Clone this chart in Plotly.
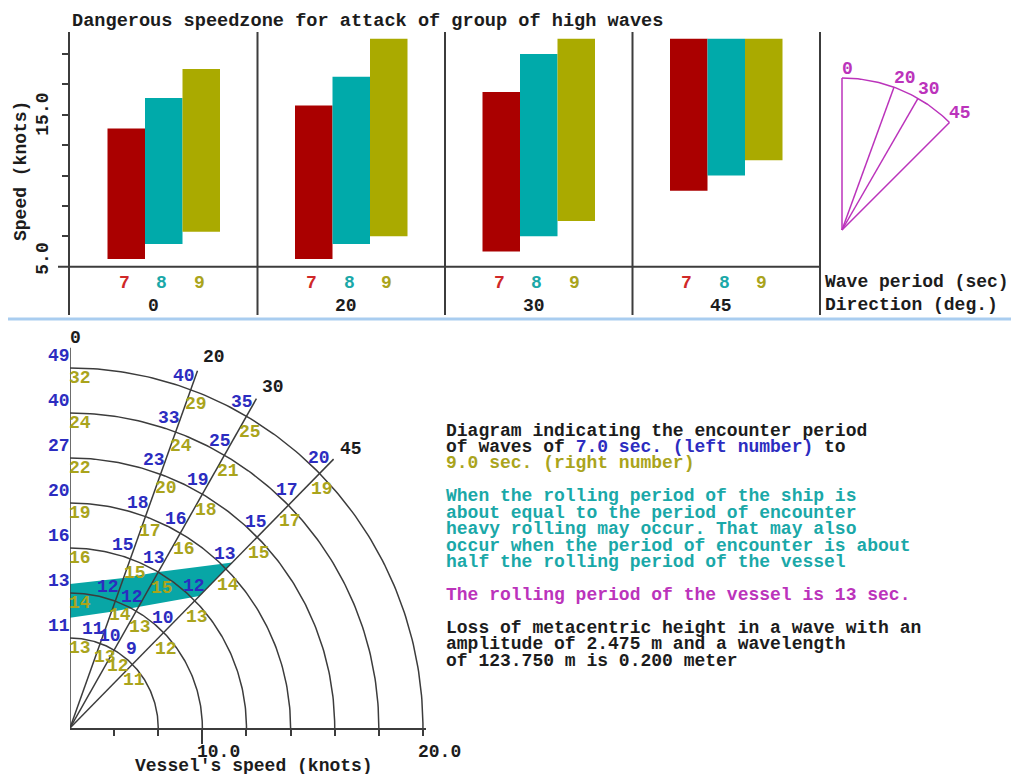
import numpy as np
import plotly.graph_objects as go

W, H = 1011, 774

# ---------------- dangerous speed zones (knots) ----------------
directions = [0, 20, 30, 45]          # wave direction (deg)
wave_periods = [7, 8, 9]              # wave period (sec)
zone_low_7s = [5.5, 5.5, 6.0, 10.0]
zone_high_7s = [14.1, 15.6, 16.5, 20.0]
zone_low_8s = [6.5, 6.5, 7.0, 11.0]
zone_high_8s = [16.1, 17.5, 19.0, 20.0]
zone_low_9s = [7.3, 7.0, 8.0, 12.0]
zone_high_9s = [18.0, 20.0, 20.0, 20.0]

# ---------------- encounter period diagram ----------------
circle_speeds = [8, 10, 12, 14, 16, 18, 20]   # vessel speed circles (knots)
hub_speed = 4.0                                # speed at the pole of the diagram
ray_end_speed = 20.9
# encounter period (sec) on each speed circle, 7.0 s waves
enc_7s_dir0 = [11, 13, 16, 20, 27, 40, 49]
enc_7s_dir20 = [11, 12, 15, 18, 23, 33, 40]
enc_7s_dir30 = [10, 12, 13, 16, 19, 25, 35]
enc_7s_dir45 = [9, 10, 12, 13, 15, 17, 20]
# encounter period (sec) on each speed circle, 9.0 s waves
enc_9s_dir0 = [13, 14, 16, 19, 22, 24, 32]
enc_9s_dir20 = [13, 14, 15, 17, 20, 24, 29]
enc_9s_dir30 = [12, 13, 15, 16, 18, 21, 25]
enc_9s_dir45 = [11, 12, 13, 14, 15, 17, 19]
# speeds bounding the resonance band
rolling_period = 13
band_low = [8.9, 9.5, 10.2, 12.3]
band_high = [10.4, 11.1, 12.0, 14.4]
speed_tick_labels = [10.0, 20.0]

FONT = "Liberation Mono"
FS = 18
BLACK = "#1c1c1c"
RED_BAR, CYAN_BAR, OLIVE_BAR = "#aa0000", "#00aaaa", "#aaaa00"
RED_TXT, CYAN_TXT, OLIVE_TXT = "#d02828", "#1aa8a8", "#aaa41c"
BLUE_TXT = "#2c2cc0"
MAGENTA = "#bb33bb"
LINE = "#3c3c3c"


def px(x):
    return x / W


def py(y):
    return 1 - y / H


def polar_xy(v, deg):
    r = np.asarray(v, dtype=float) - hub_speed
    t = np.radians(deg)
    return r * np.sin(t), r * np.cos(t)


fig = go.Figure()

# ---------------- bar chart of speed zones ----------------
lows = [zone_low_7s, zone_low_8s, zone_low_9s]
highs = [zone_high_7s, zone_high_8s, zone_high_9s]
bar_colors = [RED_BAR, CYAN_BAR, OLIVE_BAR]
label_colors = [RED_TXT, CYAN_TXT, OLIVE_TXT]
offsets = [0.3, 0.5, 0.7]
for k, period in enumerate(wave_periods):
    xs = [g + offsets[k] for g in range(len(directions))]
    fig.add_trace(go.Bar(
        x=xs, base=lows[k], y=[h - l for h, l in zip(highs[k], lows[k])],
        width=0.2, marker=dict(color=bar_colors[k], line=dict(width=0)),
        name=f"{period} s", xaxis="x", yaxis="y", hoverinfo="skip"))

annotations = []
shapes = []


def text(x, y, s, color=BLACK, xref="paper", yref="paper", xanchor="left",
         size=FS, **kw):
    annotations.append(dict(
        x=x, y=y, xref=xref, yref=yref, text=s, showarrow=False,
        xanchor=xanchor, yanchor="middle",
        font=dict(family=FONT, size=size, color=color, weight="bold"), **kw))


for g, d in enumerate(directions):
    for k, period in enumerate(wave_periods):
        text(g + offsets[k], py(283), str(period), color=label_colors[k],
             xref="x", xanchor="center", xshift=-2)
    text(g + 0.5, py(306), str(d), xref="x", xshift=-18)

# separators between direction groups
for g in range(1, len(directions) + 1):
    shapes.append(dict(type="line", xref="x", yref="y domain", x0=g, x1=g,
                       y0=0, y1=1, line=dict(color=LINE, width=2)))
# base line at 5 knots
shapes.append(dict(type="line", xref="paper", yref="y", x0=px(58), x1=px(820),
                   y0=5, y1=5, line=dict(color=LINE, width=2)))
# divider between the two diagrams
shapes.append(dict(type="line", xref="paper", yref="paper", x0=px(8), x1=1,
                   y0=py(319), y1=py(319),
                   line=dict(color="#a9cdf0", width=3)))

text(px(70), py(21), "Dangerous speedzone for attack of group of high waves",
     size=18.6)
text(px(21), py(171), "Speed (knots)", xanchor="center", textangle=-90)
text(px(43), 15, "15.0", yref="y", xanchor="center", textangle=-90)
text(px(43), 5, "5.0", yref="y", xanchor="center", textangle=-90, yshift=8)
text(px(823), py(282), "Wave period (sec)")
text(px(823), py(305), "Direction (deg.)")

# ---------------- direction fan ----------------
fan_x, fan_y = [], []
for d in directions:
    t = np.radians(d)
    fan_x += [0, np.sin(t), None]
    fan_y += [0, np.cos(t), None]
arc_t = np.radians(np.linspace(directions[0], directions[-1], 46))
fan_x += list(np.sin(arc_t))
fan_y += list(np.cos(arc_t))
fig.add_trace(go.Scatter(x=fan_x, y=fan_y, mode="lines",
                         line=dict(color=MAGENTA, width=1.5),
                         xaxis="x2", yaxis="y2", hoverinfo="skip"))
for d in directions:
    t = np.radians(d)
    text(np.sin(t), np.cos(t), str(d), color=MAGENTA, xref="x2", yref="y2",
         xshift=-2, yshift=9.5)

# ---------------- encounter period diagram ----------------
bx_hi, by_hi = polar_xy(band_high, np.array(directions))
bx_lo, by_lo = polar_xy(band_low, np.array(directions))
fig.add_trace(go.Scatter(
    x=list(bx_hi) + list(bx_lo[::-1]), y=list(by_hi) + list(by_lo[::-1]),
    mode="lines", fill="toself", fillcolor="#08a6a6",
    line=dict(width=0, color="#08a6a6"), xaxis="x3", yaxis="y3",
    hoverinfo="skip"))

ax, ay = [], []
ang = np.linspace(0, 90, 121)
for v in circle_speeds:
    x, y = polar_xy(np.full_like(ang, v), ang)
    ax += list(x) + [None]
    ay += list(y) + [None]
for d in directions:
    x, y = polar_xy([hub_speed, ray_end_speed], d)
    ax += list(x) + [None]
    ay += list(y) + [None]
fig.add_trace(go.Scatter(x=ax, y=ay, mode="lines",
                         line=dict(color=LINE, width=1.5),
                         xaxis="x3", yaxis="y3", hoverinfo="skip"))

enc_7s = {0: enc_7s_dir0, 20: enc_7s_dir20, 30: enc_7s_dir30, 45: enc_7s_dir45}
enc_9s = {0: enc_9s_dir0, 20: enc_9s_dir20, 30: enc_9s_dir30, 45: enc_9s_dir45}
shift_7s = {0: (-11, 12), 20: (-7, 14), 30: (-4, 14), 45: (-1, 15)}
shift_9s = {0: (10, -9.5), 20: (5, -14), 30: (4, -16), 45: (2, -16)}
head_shift = {0: (-2, 10), 20: (3, 14), 30: (4, 12), 45: (4, 10)}
for d in directions:
    for v, a, b in zip(circle_speeds, enc_7s[d], enc_9s[d]):
        x, y = polar_xy(v, d)
        text(float(x), float(y), str(a), color=BLUE_TXT, xref="x3", yref="y3",
             xanchor="center", xshift=shift_7s[d][0], yshift=shift_7s[d][1])
        text(float(x), float(y), str(b), color=OLIVE_TXT, xref="x3", yref="y3",
             xanchor="center", xshift=shift_9s[d][0], yshift=shift_9s[d][1])
    x, y = polar_xy(ray_end_speed, d)
    text(float(x), float(y), str(d), xref="x3", yref="y3",
         xshift=head_shift[d][0], yshift=head_shift[d][1])

for s in speed_tick_labels:
    text(s - hub_speed, py(752), f"{s:.1f}", xref="x3", xshift=-7)
text(px(254), py(766), "Vessel's speed (knots)", xanchor="center")

# ---------------- explanatory text ----------------
tx = px(444)
text(tx, py(430.5), "Diagram indicating the encounter period")
text(tx, py(447), f"of waves of <span style='color:{BLUE_TXT}'>7.0 sec. (left number)</span> to")
text(tx, py(463), "9.0 sec. (right number)", color=OLIVE_TXT)
cyan_lines = ["When the rolling period of the ship is",
              "about equal to the period of encounter",
              "heavy rolling may occur. That may also",
              "occur when the period of encounter is about",
              "half the rolling period of the vessel"]
for i, s in enumerate(cyan_lines):
    text(tx, py(496 + 16.5 * i), s, color=CYAN_TXT)
text(tx, py(594.5), f"The rolling period of the vessel is {rolling_period} sec.",
     color=MAGENTA)
loss_lines = ["Loss of metacentric height in a wave with an",
              "amplitude of 2.475 m and a wavelength",
              "of 123.750 m is 0.200 meter"]
for i, s in enumerate(loss_lines):
    text(tx, py(627.5 + 16.5 * i), s)

# ---------------- layout ----------------
def y_at(p):
    return 5 + (266.7 - p) / 15.2


fig.update_layout(
    width=W, height=H, margin=dict(l=0, r=0, t=0, b=0),
    paper_bgcolor="white", plot_bgcolor="rgba(0,0,0,0)",
    showlegend=False, barmode="overlay",
    xaxis=dict(domain=[px(70), px(822)], range=[0, 752 / 187.5],
               visible=False, anchor="y"),
    yaxis=dict(domain=[py(315), py(32)], range=[y_at(315), y_at(32)],
               anchor="x", showline=True, linecolor=LINE, linewidth=2,
               ticks="outside", ticklen=6, tickcolor=LINE, tickwidth=1.5,
               tickvals=[7, 9, 11, 13, 15, 17, 19], showticklabels=False,
               showgrid=False, zeroline=False),
    xaxis2=dict(domain=[px(830), px(1000)], range=[-12 / 152, 158 / 152],
                visible=False, anchor="y2"),
    yaxis2=dict(domain=[py(240), py(60)], range=[-10 / 152, 170 / 152],
                visible=False, anchor="x2"),
    xaxis3=dict(domain=[px(70), px(426)], range=[0, 356 / 22.06],
                anchor="y3", showline=True, linecolor=LINE, linewidth=1.5,
                ticks="outside", ticklen=14, tickcolor=LINE, tickwidth=1.5,
                tickvals=[10 - hub_speed], showticklabels=False,
                minor=dict(tickvals=[2, 4, 8, 10, 12, 14, 16], ticks="outside",
                           ticklen=6, tickcolor=LINE, tickwidth=1.5),
                showgrid=False, zeroline=False),
    yaxis3=dict(domain=[py(728), py(340)], range=[0, 388 / 22.5],
                visible=False, anchor="x3"),
    annotations=annotations, shapes=shapes,
)

fig.write_html("out.html")
